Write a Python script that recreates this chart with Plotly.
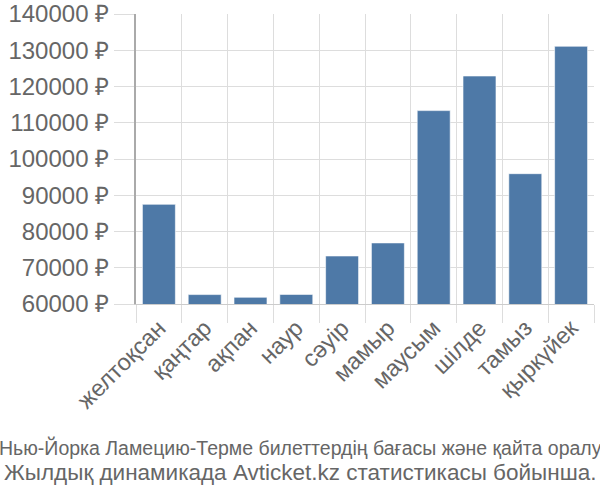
import plotly.graph_objects as go

months = ["желтоқсан", "қаңтар", "ақпан", "наур", "сәуір", "мамыр",
          "маусым", "шілде", "тамыз", "қыркүйек"]
prices = [87500, 62600, 61850, 62650, 73250, 76850, 113350, 122900, 95950, 131100]
y_ticks = [60000, 70000, 80000, 90000, 100000, 110000, 120000, 130000, 140000]
y_tick_text = [f"{v} ₽" for v in y_ticks]
title_line1 = "Нью-Йорка Ламецию-Терме билеттердің бағасы және қайта оралу"
title_line2 = "Жылдық динамикада Avticket.kz статистикасы бойынша."

fig = go.Figure(go.Bar(
    x=months, y=prices,
    marker=dict(color="#4e79a7", line=dict(color="rgba(255,255,255,0.6)", width=1)),
))

fig.update_layout(
    width=600, height=500,
    margin=dict(l=136, r=6, t=14, b=196, autoexpand=False),
    paper_bgcolor="white", plot_bgcolor="white",
    bargap=0.28,
    showlegend=False,
    font=dict(family="Liberation Sans, Arial, sans-serif", color="#666666"),
)
fig.update_xaxes(
    tickson="boundaries", ticks="outside", ticklen=18, tickcolor="#dddddd",
    showgrid=True, gridcolor="#dddddd", gridwidth=1,
    showline=True, linecolor="#cccccc", linewidth=1, automargin=False,
    tickangle=-45, tickfont=dict(size=23.5, color="#666666"),
)
fig.update_yaxes(
    range=[60000, 140000], tickvals=y_ticks, ticktext=y_tick_text,
    ticks="outside", ticklen=20, tickcolor="#dddddd",
    showgrid=True, gridcolor="#dddddd", gridwidth=1,
    showline=True, linecolor="#aaaaaa", linewidth=2, automargin=False,
    tickfont=dict(size=24, color="#666666"), zeroline=False,
)
cx = (300 - 136) / 458
fig.add_annotation(
    text=title_line1, xref="paper", yref="paper", x=cx, y=-(461 - 304) / 290,
    xanchor="center", yanchor="bottom", showarrow=False,
    font=dict(family="Liberation Sans, sans-serif", size=19.5, color="#666666"),
)
fig.add_annotation(
    text=title_line2, xref="paper", yref="paper", x=cx, y=-(487 - 304) / 290,
    xanchor="center", yanchor="bottom", showarrow=False,
    font=dict(family="Liberation Sans, sans-serif", size=22.5, color="#666666"),
)
fig.write_html("out.html")
